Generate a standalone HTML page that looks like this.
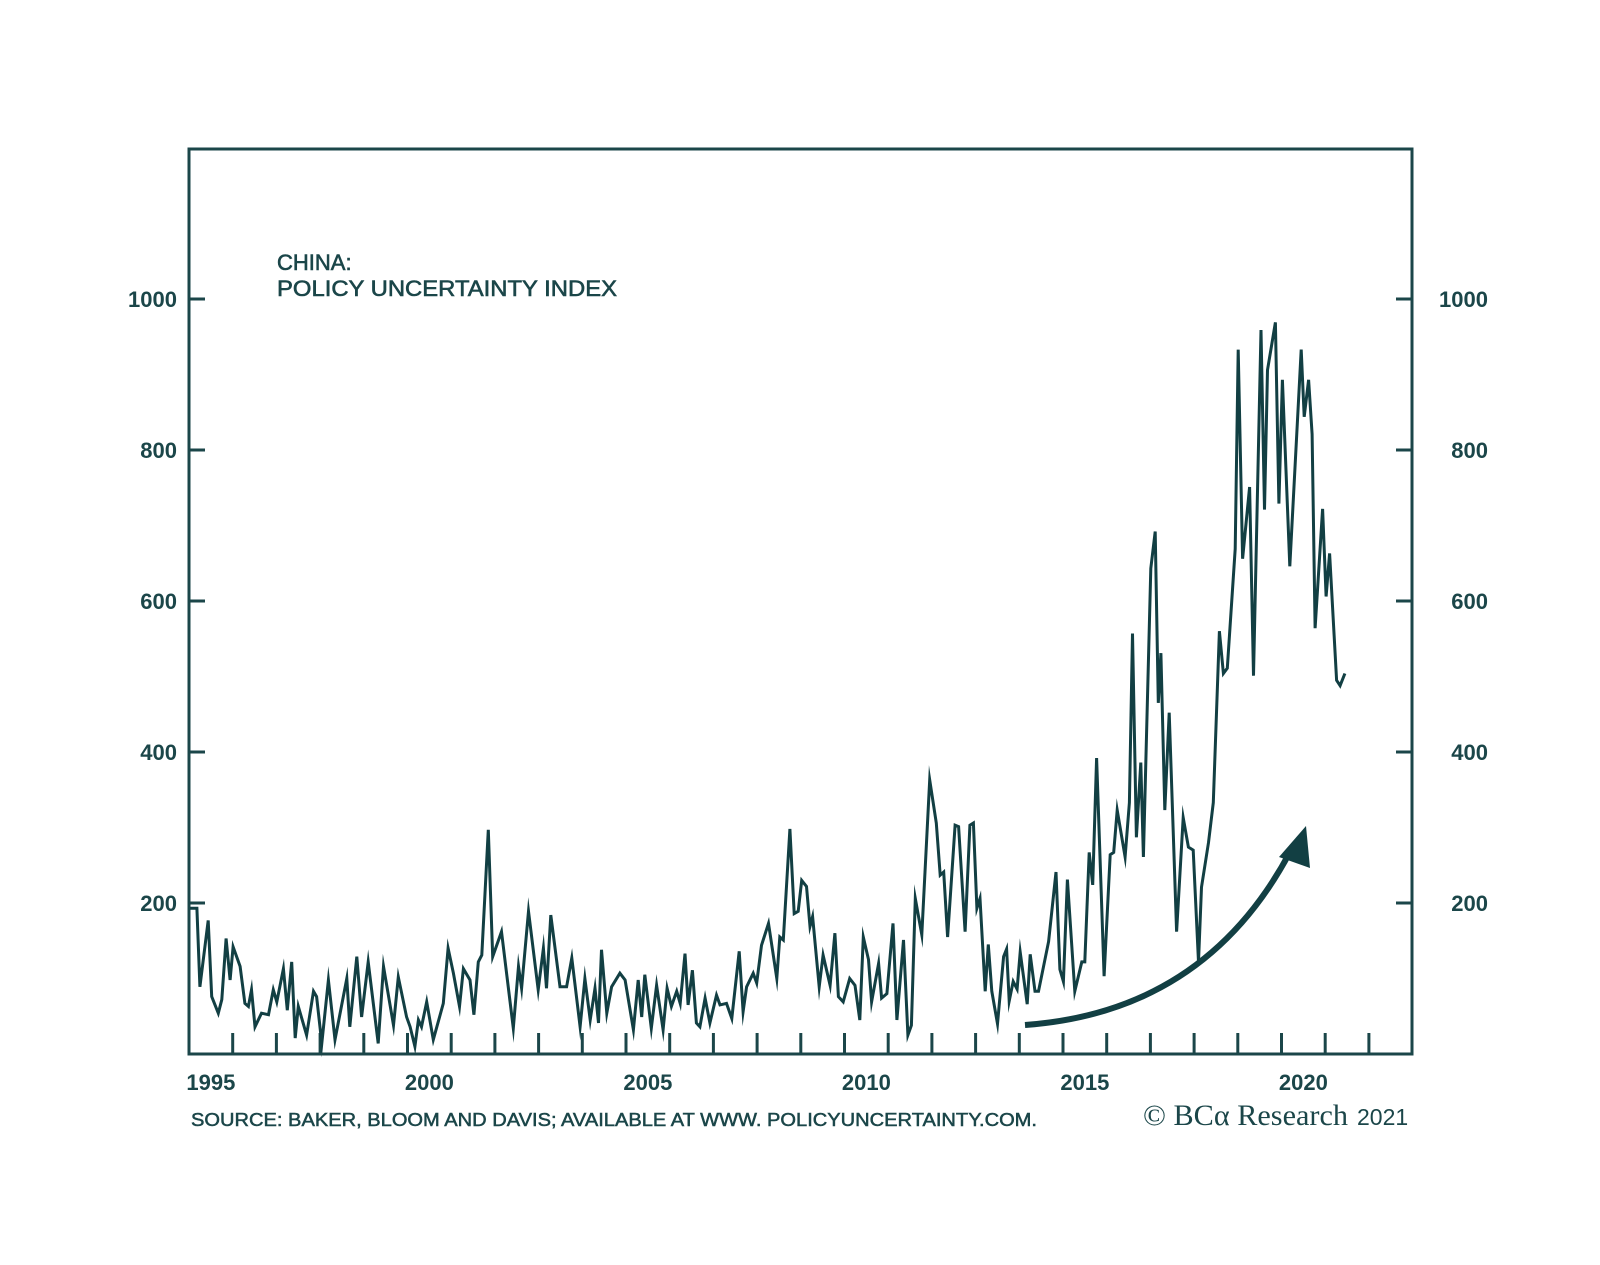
<!DOCTYPE html>
<html><head><meta charset="utf-8"><title>China Policy Uncertainty Index</title>
<style>
html,body{margin:0;padding:0;background:#fff;}
svg{display:block;}
</style></head>
<body>
<svg id="chart" width="1600" height="1265" viewBox="0 0 1600 1265" xmlns="http://www.w3.org/2000/svg" font-family="'Liberation Sans', Arial, sans-serif">
  <rect x="0" y="0" width="1600" height="1265" fill="#ffffff"/>
  <g id="axes"></g>
  <path id="series" fill="none" stroke="#123f43" stroke-width="3" stroke-linejoin="miter" stroke-miterlimit="10"/>
  <rect x="189" y="149" width="1223" height="905" fill="none" stroke="#1b4649" stroke-width="3"/>
  <g fill="#1b4649" stroke="#1b4649" stroke-width="0.6" font-size="22">
    <text x="277" y="270">CHINA:</text>
    <text x="277" y="296" textLength="340" lengthAdjust="spacingAndGlyphs">POLICY UNCERTAINTY INDEX</text>
  </g>
  <g>
    <path d="M1025,1025 Q1205,1012 1290,852" fill="none" stroke="#123f43" stroke-width="6"/>
    <polygon points="1306,826 1279,857 1310,868" fill="#123f43"/>
  </g>
  <text x="191" y="1126" font-size="18" fill="#1b4649" stroke="#1b4649" stroke-width="0.5" textLength="846" lengthAdjust="spacingAndGlyphs">SOURCE: BAKER, BLOOM AND DAVIS; AVAILABLE AT WWW. POLICYUNCERTAINTY.COM.</text>
  <text x="1143" y="1125" fill="#1b4649"><tspan font-family="'Liberation Serif', serif" font-size="30" textLength="205" lengthAdjust="spacingAndGlyphs">© BCα Research</tspan><tspan font-family="'Liberation Sans', sans-serif" font-size="23" dx="9">2021</tspan></text>
</svg>
<script>
const yearOffsets = [0.0,0.18,0.25,0.44,0.52,0.67,0.75,0.85,0.94,1.01,1.17,1.28,1.36,1.43,1.51,1.66,1.82,1.93,2.01,2.16,2.25,2.35,2.43,2.50,2.69,2.85,2.92,3.04,3.19,3.34,3.61,3.68,3.84,3.95,4.10,4.33,4.45,4.68,4.79,4.98,5.06,5.17,5.25,5.32,5.44,5.59,5.82,5.93,6.05,6.19,6.28,6.43,6.52,6.62,6.70,6.85,6.95,7.15,7.42,7.54,7.61,7.77,7.99,8.11,8.18,8.28,8.49,8.64,8.76,8.95,9.06,9.18,9.29,9.37,9.44,9.56,9.67,9.86,9.98,10.17,10.28,10.36,10.43,10.58,10.70,10.85,10.94,11.04,11.16,11.24,11.35,11.42,11.52,11.61,11.69,11.81,11.92,12.07,12.15,12.30,12.42,12.59,12.68,12.76,12.91,12.99,13.10,13.26,13.45,13.52,13.60,13.75,13.85,13.94,14.02,14.13,14.21,14.27,14.42,14.51,14.67,14.78,14.86,14.97,15.12,15.24,15.35,15.43,15.55,15.62,15.78,15.85,15.97,16.11,16.20,16.35,16.45,16.53,16.62,16.77,16.95,17.10,17.19,17.27,17.36,17.53,17.61,17.76,17.87,17.95,18.03,18.10,18.22,18.29,18.37,18.50,18.64,18.71,18.77,18.86,18.95,19.02,19.18,19.25,19.36,19.44,19.67,19.84,19.93,20.01,20.10,20.27,20.43,20.50,20.60,20.68,20.77,20.94,21.08,21.16,21.24,21.42,21.52,21.59,21.68,21.78,21.84,22.01,22.11,22.18,22.24,22.33,22.43,22.60,22.75,22.87,22.98,23.10,23.17,23.33,23.44,23.58,23.67,23.76,23.94,24.01,24.11,24.27,24.36,24.53,24.61,24.68,24.86,24.94,25.02,25.19,25.45,25.52,25.62,25.70,25.77,25.94,26.02,26.10,26.26,26.34,26.45];
const indexValues = [193,193,89,177,76,54,72,153,98,142,116,67,63,85,36,54,52,85,69,113,58,122,21,63,25,83,76,14,98,19,100,36,129,49,122,14,116,38,102,49,36,10,45,36,69,19,67,140,107,63,113,98,52,122,131,297,129,162,34,116,87,189,85,140,87,184,89,89,127,36,100,45,87,41,138,54,89,107,98,32,98,49,105,34,91,32,87,63,83,67,133,65,111,41,36,74,41,78,65,67,47,136,56,89,107,94,144,173,100,155,151,298,186,189,230,222,169,182,89,131,91,160,76,69,100,91,45,155,125,69,120,74,80,173,45,151,25,38,206,158,363,306,237,241,155,303,301,162,303,306,193,206,83,145,83,40,129,139,70,96,86,135,66,132,83,83,149,241,112,96,231,83,122,122,267,224,392,103,264,267,323,261,333,557,287,386,261,643,692,465,531,323,452,162,313,274,270,122,221,280,333,560,504,511,669,933,656,751,501,959,721,906,969,729,893,646,933,844,893,821,564,722,606,663,495,488,504];
const yTicks = [200,400,600,800,1000];
const xLabels = [1995,2000,2005,2010,2015,2020];
const baseYear = 1995;

const X0 = 189, XW = 43.7, Y0 = 1054, YS = 0.755;
function xScale(t){ return X0 + t * XW; }
function yScale(v){ return Y0 - v * YS; }
const NS = 'http://www.w3.org/2000/svg';
const axes = document.getElementById('axes');

yTicks.forEach(v => {
  const y = yScale(v);
  const l1 = document.createElementNS(NS,'line');
  l1.setAttribute('x1',189); l1.setAttribute('x2',205); l1.setAttribute('y1',y); l1.setAttribute('y2',y);
  l1.setAttribute('stroke','#1b4649'); l1.setAttribute('stroke-width','3');
  
  
  axes.appendChild(l1);
  const l2 = document.createElementNS(NS,'line');
  l2.setAttribute('x1',1396); l2.setAttribute('x2',1412); l2.setAttribute('y1',y); l2.setAttribute('y2',y);
  l2.setAttribute('stroke','#1b4649'); l2.setAttribute('stroke-width','3');
  
  
  axes.appendChild(l2);
  const t1 = document.createElementNS(NS,'text');
  t1.setAttribute('x',177); t1.setAttribute('y',y+8); t1.setAttribute('text-anchor','end');
  t1.setAttribute('font-size','22'); t1.setAttribute('font-weight','bold'); t1.setAttribute('fill','#1b4649');
  t1.textContent = v;
  
  
  axes.appendChild(t1);
  const t2 = document.createElementNS(NS,'text');
  t2.setAttribute('x',1488); t2.setAttribute('y',y+8); t2.setAttribute('text-anchor','end');
  t2.setAttribute('font-size','22'); t2.setAttribute('font-weight','bold'); t2.setAttribute('fill','#1b4649');
  t2.textContent = v;
  
  
  axes.appendChild(t2);
});

for (let yr = 1; yr <= 27; yr++) {
  const x = xScale(yr);
  const l = document.createElementNS(NS,'line');
  l.setAttribute('x1',x); l.setAttribute('x2',x); l.setAttribute('y1',1033); l.setAttribute('y2',1054);
  l.setAttribute('stroke','#1b4649'); l.setAttribute('stroke-width','3');
  
  
  axes.appendChild(l);
}
xLabels.forEach(yr => {
  const t = document.createElementNS(NS,'text');
  t.setAttribute('x', xScale(yr - baseYear + 0.5)); t.setAttribute('y',1090);
  t.setAttribute('text-anchor','middle'); t.setAttribute('font-size','22'); t.setAttribute('font-weight','bold');
  t.setAttribute('fill','#1b4649');
  t.textContent = yr;
  
  
  axes.appendChild(t);
});

let d = '';
yearOffsets.forEach((t,i) => {
  d += (i ? 'L' : 'M') + xScale(t).toFixed(1) + ',' + yScale(indexValues[i]).toFixed(1);
});
document.getElementById('series').setAttribute('d', d);
</script>
</body></html>
